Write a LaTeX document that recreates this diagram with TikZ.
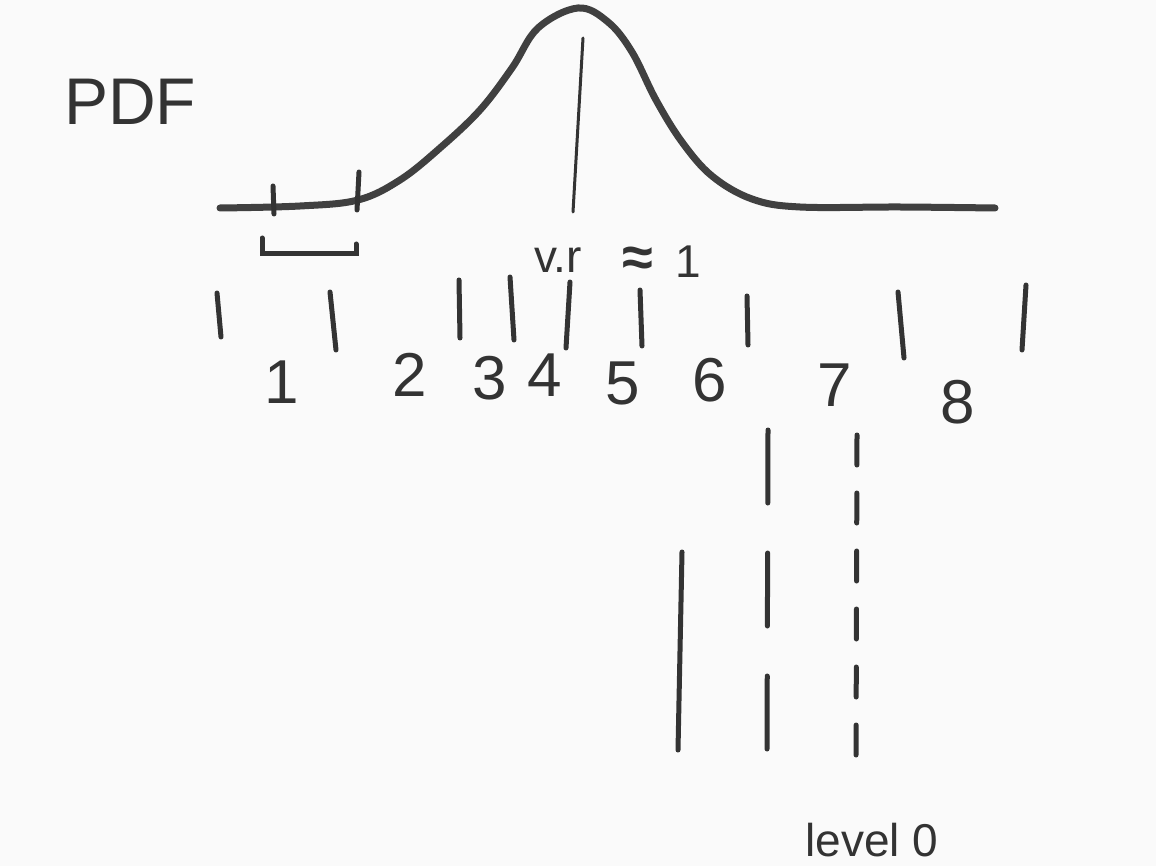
\documentclass[tikz,border=0pt]{standalone}
\usepackage{fontspec}
\setmainfont{Liberation Sans}
\usetikzlibrary{positioning}

\begin{document}
\begin{tikzpicture}[
    x=1pt, y=-1pt,
    line cap=round,
    pen/.style={line width=5pt, black!80},   % 手写笔画
    curve/.style={line width=7pt, black!75},
    thin pen/.style={line width=3pt, black!80},
    hand/.style={inner sep=0pt, text=black!80, font=\fontsize{62}{62}\selectfont},
    small hand/.style={inner sep=0pt, text=black!80, font=\fontsize{46}{46}\selectfont}
]
  % 纸张
  \fill[gray!4] (0,0) rectangle (1156,866);
  \useasboundingbox (0,0) rectangle (1156,866);

  % 标题
  \node[hand, anchor=west, font=\fontsize{66}{66}\selectfont] (title) at (64,102) {PDF};

  % 概率密度曲线
  \draw[curve] plot[smooth, tension=0.6] coordinates {
    (220,208) (300,206) (358,200) (400,180) (440,148) (480,110)
    (512,68) (538,28) (578,8) (608,22) (632,52) (656,100) (682,142)
    (712,176) (752,199) (800,207) (900,207) (995,208)};
  \coordinate (peak) at (583,38);
  \coordinate (base) at (573,212);
  \draw[thin pen] (peak) -- (base);

  % 左侧区间
  \draw[pen] (273,186) -- (274,214);
  \draw[pen] (359,172) -- (357,210);
  \coordinate (bl) at (262,238);
  \coordinate (br) at (356,244);
  \draw[pen] (bl) -- (262,254) -- (356,254) -- (br);

  % 标注
  \node[small hand] (vr) at (558,260) {v.r};
  \node[hand, font=\fontsize{56}{56}\selectfont\bfseries] (approx) at (638,262) {≈};
  \node[small hand, right=22pt of approx] (one) {1};

  % 分隔刻度
  \draw[pen] (217,293) -- (221,337);
  \draw[pen] (330,292) -- (336,350);
  \draw[pen] (459,280) -- (460,338);
  \draw[pen] (510,277) -- (514,340);
  \draw[pen] (570,282) -- (566,348);
  \draw[pen] (640,290) -- (642,346);
  \draw[pen] (747,296) -- (748,345);
  \draw[pen] (898,292) -- (904,358);
  \draw[pen] (1026,285) -- (1022,350);

  % 区间编号
  \node[hand] (n1) at (282,382) {1};
  \node[hand] (n2) at (410,375) {2};
  \node[hand] (n3) at (490,378) {3};
  \node[hand] (n4) at (545,375) {4};
  \node[hand] (n5) at (623,383) {5};
  \node[hand] (n6) at (710,380) {6};
  \node[hand] (n7) at (835,385) {7};
  \node[hand] (n8) at (958,402) {8};

  % 下方竖线
  \coordinate (s1) at (682,552);
  \coordinate (s2) at (678,750);
  \draw[pen] (s1) -- (s2);
  \coordinate (d1) at (768,430);
  \coordinate (d2) at (767,757);
  \draw[pen, dash pattern=on 73pt off 50pt] (d1) -- (d2);
  \coordinate (e1) at (857,435);
  \coordinate (e2) at (856,762);
  \draw[pen, dash pattern=on 30pt off 28pt] (e1) -- (e2);

  \node[small hand, anchor=base] (level) at (872,856) {level 0};
\end{tikzpicture}
\end{document}
